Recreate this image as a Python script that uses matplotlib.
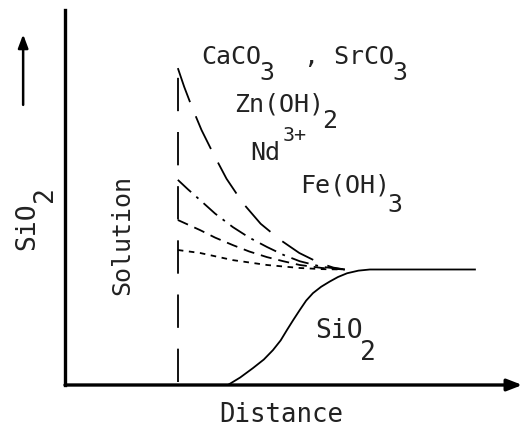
import matplotlib.pyplot as plt

# 字体与虚线设置
plt.rcParams["font.family"] = ["DejaVu Sans Mono", "DejaVu Sans"]
plt.rcParams["lines.scale_dashes"] = False

# 各曲线数据 (Distance, SiO2)
x_caco3 = [2.48, 2.62, 2.79, 3.00, 3.25, 3.55, 3.91, 4.30, 4.73, 5.15, 5.60, 5.90, 6.15]
y_caco3 = [8.45, 7.95, 7.41, 6.80, 6.19, 5.50, 4.85, 4.30, 3.87, 3.52, 3.25, 3.13, 3.08]

x_zn = [2.48, 2.70, 2.97, 3.30, 3.69, 4.05, 4.44, 4.80, 5.16, 5.65, 6.15]
y_zn = [5.47, 5.22, 4.93, 4.57, 4.21, 3.93, 3.68, 3.47, 3.30, 3.15, 3.08]

x_nd = [2.48, 2.97, 3.30, 3.69, 4.05, 4.44, 4.80, 5.16, 5.65, 6.15]
y_nd = [4.40, 4.13, 3.93, 3.73, 3.56, 3.41, 3.30, 3.20, 3.12, 3.08]

x_fe = [2.48, 2.97, 3.69, 4.44, 5.16, 5.65, 6.15]
y_fe = [3.60, 3.52, 3.33, 3.20, 3.12, 3.09, 3.08]

x_sio2 = [3.58, 3.85, 4.13, 4.37, 4.57, 4.74, 4.88, 5.02, 5.16, 5.30, 5.45,
          5.63, 5.82, 6.00, 6.20, 6.45, 6.70, 9.01]
y_sio2 = [0.00, 0.20, 0.45, 0.68, 0.93, 1.19, 1.47, 1.74, 2.00, 2.25, 2.45,
          2.62, 2.76, 2.88, 2.98, 3.05, 3.08, 3.08]

x_solution = [2.48, 2.48]
y_solution = [0.08, 8.45]

text_color = "#222222"

fig = plt.figure(figsize=(5.23, 4.37), dpi=100)
ax = fig.add_axes([65 / 523, 52 / 437, 455 / 523, 375 / 437])
ax.set_xlim(0, 10)
ax.set_ylim(0, 10)
ax.axis("off")


def chem_label(x, y, pieces, size, sub_dy=5.5, sup_size=0.8):
    # pieces: [(文字, "n"/"sub"/"sup"), ...]
    base = ax.text(x, y, pieces[0][0], fontsize=size, va="baseline", color=text_color)
    prev = base
    for s, kind in pieces[1:]:
        if kind == "sub":
            prev = ax.annotate(s, xy=(1, 0), xycoords=(prev, base), xytext=(-1.5, sub_dy),
                               textcoords="offset points", va="top", fontsize=size,
                               color=text_color)
        elif kind == "sup":
            prev = ax.annotate(s, xy=(1, 1), xycoords=(prev, base), xytext=(2, -3),
                               textcoords="offset points", va="bottom",
                               fontsize=size * sup_size, color=text_color)
        else:
            prev = ax.annotate(s, xy=(1, 0), xycoords=(prev, base), va="bottom",
                               fontsize=size, color=text_color)


lw = 1.3
ax.plot(x_caco3, y_caco3, color="black", lw=lw, dashes=(26, 11))
ax.plot(x_zn, y_zn, color="black", lw=lw, dashes=(13, 5, 2, 5))
ax.plot(x_nd, y_nd, color="black", lw=lw, dashes=(8, 5))
ax.plot(x_fe, y_fe, color="black", lw=lw, dashes=(4, 4))
ax.plot(x_sio2, y_sio2, color="black", lw=lw)
ax.plot(x_solution, y_solution, color="black", lw=lw, dashes=(24, 15))

# 坐标轴
ax.plot([0, 0], [0, 10], color="black", lw=2.4, clip_on=False)
ax.annotate("", xy=(10.05, 0), xytext=(0, 0), annotation_clip=False,
            arrowprops=dict(arrowstyle="-|>,head_length=0.9,head_width=0.35",
                            color="black", lw=2.4, shrinkA=0, shrinkB=0))
ax.annotate("", xy=(-0.92, 9.35), xytext=(-0.92, 7.47), annotation_clip=False,
            arrowprops=dict(arrowstyle="-|>,head_length=0.8,head_width=0.3",
                            color="black", lw=1.8, shrinkA=0, shrinkB=0))

# 文字
chem_label(2.99, 8.56, [("CaCO", "n"), ("3", "sub"), ("  , SrCO", "n"), ("3", "sub")], 18)
chem_label(3.72, 7.30, [("Zn(OH)", "n"), ("2", "sub")], 18)
chem_label(4.07, 6.00, [("Nd", "n"), ("3+", "sup")], 18)
chem_label(5.16, 5.12, [("Fe(OH)", "n"), ("3", "sub")], 18, sub_dy=3.5)
chem_label(5.49, 1.25, [("SiO", "n"), ("2", "sub")], 19, sub_dy=3)
ax.text(1.25, 4.0, "Solution", fontsize=18, rotation=90, ha="center", va="center",
        color=text_color)
ax.text(4.75, -0.8, "Distance", fontsize=18.5, ha="center", va="center", color=text_color)

# 纵轴标签 SiO2（旋转）
ylab = ax.text(-0.83, 3.6, "SiO", fontsize=19, rotation=90, ha="center", va="bottom",
               color=text_color)
ax.annotate("2", xy=(1, 1), xycoords=ylab, xytext=(-6, 0), textcoords="offset points",
            rotation=90, ha="left", va="bottom", fontsize=19, color=text_color)

plt.savefig("out.png", dpi=100)
